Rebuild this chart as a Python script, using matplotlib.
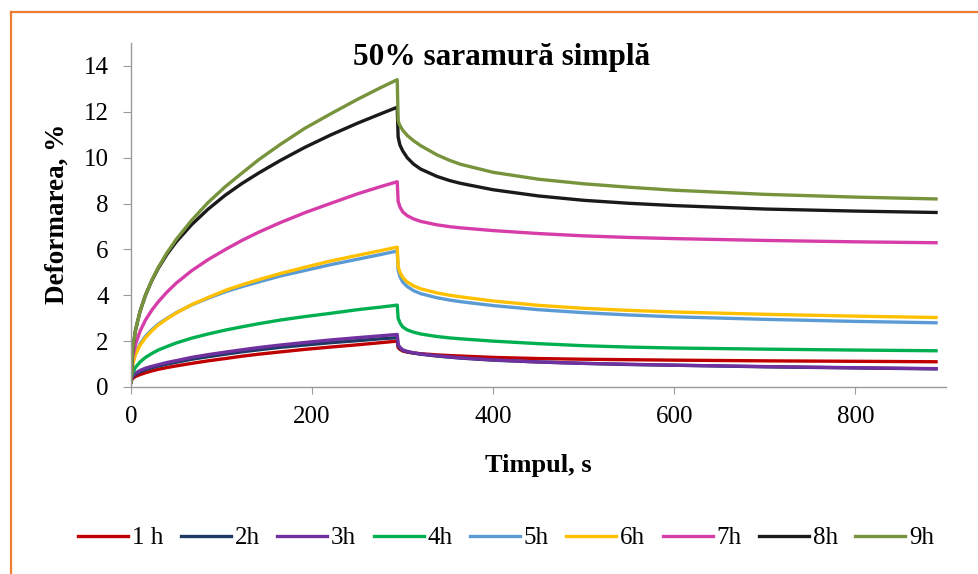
import matplotlib
matplotlib.use("Agg")
import matplotlib.pyplot as plt
from matplotlib.lines import Line2D

plt.rcParams['font.family'] = ['Liberation Serif', 'DejaVu Serif']

# time axis, s: loading up to 294 s, then recovery after unloading
t_load = [0, 2, 5, 10, 16, 23, 30, 40, 50, 67, 85, 104, 122, 141, 165, 192, 220, 250, 275, 294]
t_unload = [295, 297, 300, 305, 312, 320, 338, 352, 364, 400, 450, 500, 550, 600, 700, 800, 889]
timp = t_load + t_unload

# deformation, %
h1 = [0.25, 0.38, 0.46, 0.54, 0.62, 0.70, 0.77, 0.85, 0.92, 1.03, 1.14, 1.24, 1.34, 1.43, 1.53, 1.64, 1.74, 1.84, 1.93, 2.00,
      1.72, 1.64, 1.57, 1.52, 1.48, 1.45, 1.40, 1.37, 1.35, 1.29, 1.24, 1.21, 1.19, 1.17, 1.14, 1.12, 1.10]
h2 = [0.30, 0.45, 0.55, 0.66, 0.76, 0.84, 0.91, 1.00, 1.08, 1.21, 1.32, 1.43, 1.53, 1.62, 1.73, 1.83, 1.93, 2.02, 2.10, 2.15,
      1.80, 1.70, 1.61, 1.54, 1.48, 1.43, 1.35, 1.30, 1.26, 1.17, 1.09, 1.03, 0.98, 0.95, 0.88, 0.83, 0.79]
h3 = [0.30, 0.50, 0.60, 0.72, 0.82, 0.90, 0.97, 1.07, 1.15, 1.29, 1.41, 1.52, 1.62, 1.72, 1.83, 1.94, 2.05, 2.15, 2.23, 2.29,
      1.85, 1.73, 1.62, 1.55, 1.49, 1.44, 1.36, 1.31, 1.27, 1.18, 1.09, 1.03, 0.99, 0.95, 0.89, 0.84, 0.80]
h4 = [0.40, 0.62, 0.86, 1.09, 1.29, 1.46, 1.61, 1.77, 1.92, 2.13, 2.31, 2.48, 2.62, 2.76, 2.92, 3.07, 3.21, 3.37, 3.48, 3.57,
      3.00, 2.80, 2.62, 2.49, 2.39, 2.31, 2.20, 2.14, 2.10, 2.00, 1.89, 1.80, 1.74, 1.70, 1.65, 1.61, 1.58]
h5 = [0.40, 1.05, 1.47, 1.88, 2.21, 2.50, 2.74, 3.00, 3.24, 3.58, 3.87, 4.15, 4.37, 4.58, 4.84, 5.08, 5.33, 5.57, 5.77, 5.93,
      5.10, 4.82, 4.58, 4.38, 4.20, 4.07, 3.89, 3.79, 3.72, 3.55, 3.37, 3.24, 3.14, 3.06, 2.95, 2.86, 2.80]
h6 = [0.40, 1.02, 1.42, 1.82, 2.15, 2.45, 2.70, 2.98, 3.23, 3.59, 3.90, 4.21, 4.45, 4.68, 4.95, 5.22, 5.49, 5.74, 5.94, 6.10,
      5.25, 5.00, 4.78, 4.58, 4.41, 4.28, 4.10, 4.00, 3.93, 3.75, 3.56, 3.43, 3.34, 3.27, 3.17, 3.09, 3.03]
h7 = [0.50, 1.30, 1.86, 2.43, 2.92, 3.35, 3.71, 4.15, 4.53, 5.07, 5.55, 5.99, 6.38, 6.75, 7.17, 7.60, 8.00, 8.42, 8.73, 8.95,
      8.10, 7.85, 7.64, 7.47, 7.33, 7.22, 7.07, 6.99, 6.94, 6.82, 6.69, 6.59, 6.52, 6.47, 6.39, 6.33, 6.29]
h8 = [0.20, 1.69, 2.48, 3.30, 4.00, 4.64, 5.17, 5.80, 6.33, 7.08, 7.75, 8.36, 8.86, 9.33, 9.88, 10.45, 10.98, 11.50, 11.90, 12.20,
      10.90, 10.55, 10.30, 10.00, 9.72, 9.50, 9.18, 9.00, 8.88, 8.60, 8.33, 8.14, 8.01, 7.91, 7.76, 7.67, 7.61]
h9 = [0.20, 1.69, 2.48, 3.30, 4.01, 4.66, 5.21, 5.87, 6.44, 7.27, 8.04, 8.73, 9.31, 9.91, 10.58, 11.28, 11.90, 12.54, 13.04, 13.40,
      11.60, 11.40, 11.20, 10.97, 10.74, 10.52, 10.12, 9.88, 9.71, 9.36, 9.06, 8.86, 8.71, 8.58, 8.40, 8.28, 8.20]

serii = [h1, h2, h3, h4, h5, h6, h7, h8, h9]
etichete = ['1 h', '2h', '3h', '4h', '5h', '6h', '7h', '8h', '9h']
culori = ['#C00000', '#1F3864', '#7030A0', '#00B050', '#5B9BD5',
          '#FFC000', '#D63DA8', '#1A1A1A', '#77933C']

fig = plt.figure(figsize=(9.79, 5.74), dpi=100, facecolor='white')
ax = fig.add_axes([0.1338, 0.3258, 0.8325, 0.5993])

for y, lab, c in zip(serii, etichete, culori):
    ax.plot(timp, y, color=c, linewidth=2.4, label=lab, solid_joinstyle='round')

ax.set_xlim(0, 900)
ax.set_ylim(0, 15)
ax.set_xticks([0, 200, 400, 600, 800])
ax.set_yticks(range(0, 15, 2))

for s in ['top', 'right']:
    ax.spines[s].set_visible(False)
for s in ['left', 'bottom']:
    ax.spines[s].set_color('#9A9A9A')
    ax.spines[s].set_linewidth(1.0)
ax.tick_params(axis='both', direction='out', color='#9A9A9A', labelsize=18, labelcolor='black')
ax.tick_params(axis='y', length=6, pad=10)
ax.tick_params(axis='x', length=5, pad=9)

fig.text(0.512, 0.8868, '50% saramură simplă', fontsize=22.5, fontweight='bold',
         ha='center', va='baseline')
fig.text(0.550, 1 - 471.7 / 574, 'Timpul, s', fontsize=19, fontweight='bold',
         ha='center', va='baseline')
fig.text(0.0587, 0.627, 'Deformarea, %', fontsize=19.5, fontweight='bold',
         ha='center', va='center', rotation=90)

fig.legend(loc='center', bbox_to_anchor=(0.517, 0.0627), ncol=9, frameon=False,
           fontsize=18, handlelength=2.0, handletextpad=0.15, columnspacing=0.7)

# orange frame around the chart area
orange = '#ED7D31'
fig.add_artist(Line2D([10.5 / 979, 10.5 / 979], [0, 1 - 12 / 574], color=orange, linewidth=1.6))
fig.add_artist(Line2D([10.5 / 979, 1], [1 - 12 / 574, 1 - 12 / 574], color=orange, linewidth=1.6))

fig.savefig('out.png', dpi=100, facecolor='white')
